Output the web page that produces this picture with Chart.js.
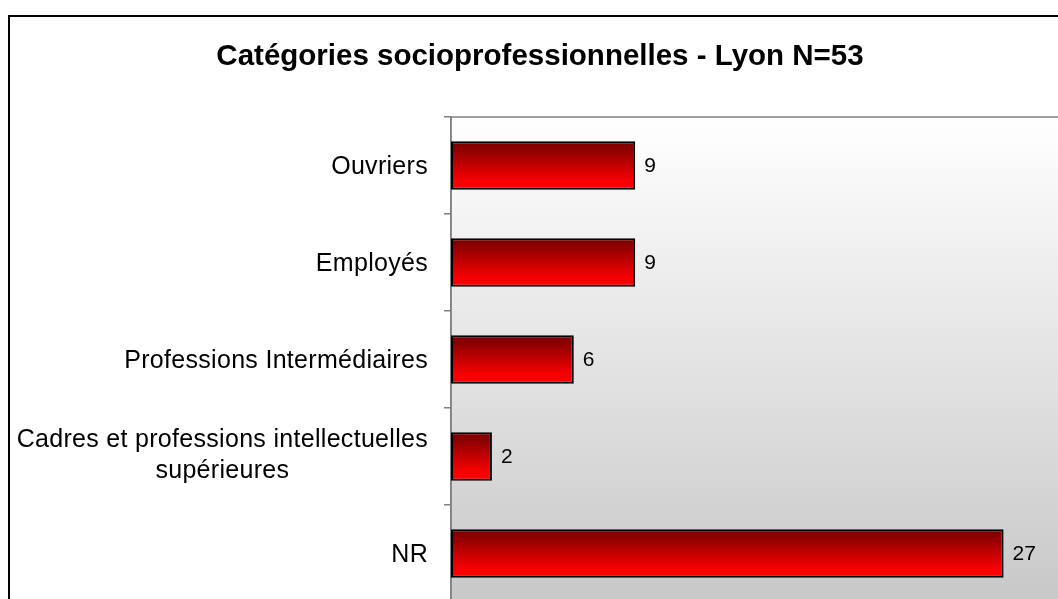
<!DOCTYPE html>
<html>
<head>
<meta charset="utf-8">
<script src="https://cdn.jsdelivr.net/npm/chart.js@4/dist/chart.umd.min.js"></script>
<style>
  html, body { margin: 0; padding: 0; background: #fff; overflow: hidden; }
  #wrap { position: relative; width: 1070px; height: 605px; }
</style>
</head>
<body>
<div id="wrap"><canvas id="chart"></canvas></div>
<script>
// Catégories socioprofessionnelles - horizontal bars with red gradient

const categories = [
  'Ouvriers',
  'Employés',
  'Professions Intermédiaires',
  ['Cadres et professions intellectuelles', 'supérieures'],
  'NR'
];
const counts = [9, 9, 6, 2, 27];
const xMax = 30;
const chartTitle = 'Catégories socioprofessionnelles - Lyon N=53';

const FONT = "'Liberation Sans', Arial, sans-serif";

// Vertical gradient for each bar: dark red at top, bright red at bottom
function barGradient(context) {
  const chart = context.chart;
  const yScale = chart.scales.y;
  if (!chart.chartArea || !yScale) return '#cc0000';
  const center = yScale.getPixelForValue(context.dataIndex);
  const half = (yScale.height / categories.length) * 0.25;
  const g = chart.ctx.createLinearGradient(0, center - half, 0, center + half);
  g.addColorStop(0, '#800000');
  g.addColorStop(0.15, '#8a0000');
  g.addColorStop(0.8, '#f60000');
  g.addColorStop(1, '#ff0000');
  return g;
}

// Frame, title + plot background
const backgroundPlugin = {
  id: 'backgroundPlugin',
  beforeDraw(chart) {
    const { ctx, chartArea } = chart;
    ctx.save();
    const g = ctx.createLinearGradient(0, chartArea.top, 0, chartArea.bottom);
    g.addColorStop(0, '#ffffff');
    g.addColorStop(1, '#c8c8c8');
    ctx.fillStyle = g;
    ctx.fillRect(chartArea.left, chartArea.top, chartArea.right - chartArea.left, chartArea.bottom - chartArea.top);
    // plot area border (grey)
    ctx.strokeStyle = '#808080';
    ctx.lineWidth = 1.5;
    ctx.strokeRect(chartArea.left, chartArea.top, chartArea.right - chartArea.left, chartArea.bottom - chartArea.top);
    // outer frame
    ctx.strokeStyle = '#000000';
    ctx.lineWidth = 2;
    ctx.strokeRect(9, 16, 1051, 700);
    // title
    ctx.font = 'bold 29.5px ' + FONT;
    ctx.fillStyle = '#000000';
    ctx.textAlign = 'center';
    ctx.textBaseline = 'alphabetic';
    ctx.fillText(chartTitle, 540, 65);
    ctx.restore();
  }
};

// Category labels (right aligned block, multi-line centered)
const categoryLabelPlugin = {
  id: 'categoryLabelPlugin',
  afterDraw(chart) {
    const { ctx } = chart;
    const yScale = chart.scales.y;
    const right = yScale.right - 23;
    const lineHeight = 31;
    ctx.save();
    ctx.font = '25px ' + FONT;
    ctx.letterSpacing = '0.3px';
    ctx.fillStyle = '#000000';
    ctx.textBaseline = 'middle';
    categories.forEach((label, i) => {
      const lines = Array.isArray(label) ? label : [label];
      const y = yScale.getPixelForTick(i);
      const maxW = Math.max(...lines.map(l => ctx.measureText(l).width));
      const cx = right - maxW / 2;
      const shift = lines.length > 1 ? -1 : 2;
      const startY = y - (lines.length - 1) * lineHeight / 2 + shift;
      ctx.textAlign = 'center';
      lines.forEach((line, j) => {
        ctx.fillText(line, cx, startY + j * lineHeight);
      });
    });
    ctx.restore();
  }
};

// Value labels at bar ends
const valueLabelPlugin = {
  id: 'valueLabelPlugin',
  afterDatasetsDraw(chart) {
    const { ctx } = chart;
    const meta = chart.getDatasetMeta(0);
    ctx.save();
    ctx.font = '21px ' + FONT;
    ctx.fillStyle = '#000000';
    ctx.textAlign = 'left';
    ctx.textBaseline = 'middle';
    meta.data.forEach((bar, i) => {
      ctx.fillText(String(counts[i]), bar.x + 9, bar.y + 1);
    });
    ctx.restore();
  }
};

new Chart(document.getElementById('chart'), {
  type: 'bar',
  data: {
    labels: categories,
    datasets: [{
      data: counts,
      backgroundColor: barGradient,
      borderColor: '#000000',
      borderWidth: 2,
      borderSkipped: false,
      barPercentage: 0.5,
      categoryPercentage: 1.0
    }]
  },
  options: {
    indexAxis: 'y',
    responsive: true,
    maintainAspectRatio: false,
    animation: false,
    layout: {
      padding: { left: 0, right: 5, top: 117, bottom: 3 }
    },
    plugins: {
      legend: { display: false },
      tooltip: { enabled: false },
      title: { display: false }
    },
    scales: {
      x: {
        display: false,
        min: 0,
        max: xMax
      },
      y: {
        afterFit(scale) {
          scale.width = 451;
        },
        ticks: { display: false },
        grid: {
          drawOnChartArea: false,
          drawTicks: true,
          tickLength: 7,
          color: '#808080',
          lineWidth: 1.5
        },
        border: {
          display: true,
          color: '#808080',
          width: 1.5
        }
      }
    }
  },
  plugins: [backgroundPlugin, categoryLabelPlugin, valueLabelPlugin]
});
</script>
</body>
</html>
